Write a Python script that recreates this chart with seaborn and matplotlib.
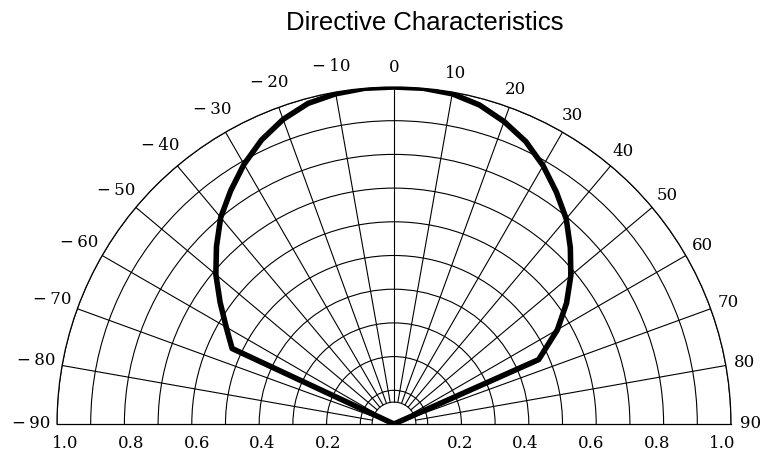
import numpy as np
import matplotlib
matplotlib.use("Agg")
import matplotlib.pyplot as plt
import seaborn as sns

# ---- data ----
angles_deg = [-90, -65, -60, -55, -50, -45, -40, -35, -30, -25, -20, -15, -10, -5, 0,
              5, 10, 15, 20, 25, 30, 35, 40, 45, 50, 55, 60, 66, 90]
intensity = [0.0, 0.53, 0.575, 0.63, 0.69, 0.745, 0.80, 0.845, 0.89, 0.93, 0.962, 0.985, 0.995, 1.0, 1.0,
             1.0, 0.995, 0.98, 0.955, 0.925, 0.885, 0.84, 0.795, 0.74, 0.685, 0.625, 0.56, 0.47, 0.0]
angle_ticks = [-90, -80, -70, -60, -50, -40, -30, -20, -10, 0, 10, 20, 30, 40, 50, 60, 70, 80, 90]
r_ticks = [0.2, 0.4, 0.6, 0.8, 1.0]
r_tick_labels = ["0.2", "0.4", "0.6", "0.8", "1.0"]
title = "Directive Characteristics"

sns.set_theme(style="white")
plt.rcParams["font.family"] = ["DejaVu Serif"]
plt.rcParams["text.color"] = "black"

W, H = 762, 457
fig = plt.figure(figsize=(W / 100, H / 100), dpi=100)
cx, cy, R = 394, 424, 337
ax = fig.add_axes([(cx - R) / W, ((H - cy) - R / 2) / H, 2 * R / W, 2 * R / H],
                  projection="polar")
ax.set_theta_zero_location("N")
ax.set_theta_direction(-1)
ax.set_thetamin(-90)
ax.set_thetamax(90)
ax.set_ylim(0, 1)
ax.set_facecolor("white")

# rings
rings = [0.065] + list(np.round(np.arange(0.1, 1.01, 0.1), 2))
ax.set_yticks(rings)
ax.set_yticklabels([])
ax.yaxis.grid(True, color="black", lw=0.8)
ax.set_xticks([])
ax.xaxis.grid(False)
for sp in ax.spines.values():
    sp.set_color("black")
    sp.set_linewidth(0.9)

# radial grid lines
for a in angle_ticks[1:-1]:
    ax.plot([np.deg2rad(a)] * 2, [0.065, 1.0], color="black", lw=0.8, zorder=2)

# the pattern curve
sns.lineplot(x=np.deg2rad(angles_deg), y=intensity, ax=ax, sort=False,
             color="black", lw=4, zorder=5, solid_joinstyle="round")
ax.set_xlabel("")
ax.set_ylabel("")

# angle labels
for a in angle_ticks:
    if a < 0:
        lab, rr = "\u2212\u2009%d" % (-a), 1.078
    else:
        lab, rr = "%d" % a, 1.057
    ax.text(np.deg2rad(a), rr, lab, ha="center", va="center", fontsize=12,
            clip_on=False)

# r labels on baseline
for v, lab in zip(r_ticks, r_tick_labels):
    for side in (-90, 90):
        ax.annotate(lab, (np.deg2rad(side), v * 0.975), xytext=(0, -14),
                    textcoords="offset points", ha="center", va="center",
                    fontsize=12, annotation_clip=False)

fig.text(425 / W, 1 - 23 / H, title, ha="center", va="center", fontsize=18.5,
         family=["Liberation Sans", "DejaVu Sans"])

fig.savefig("out.png", dpi=100, facecolor="white")
